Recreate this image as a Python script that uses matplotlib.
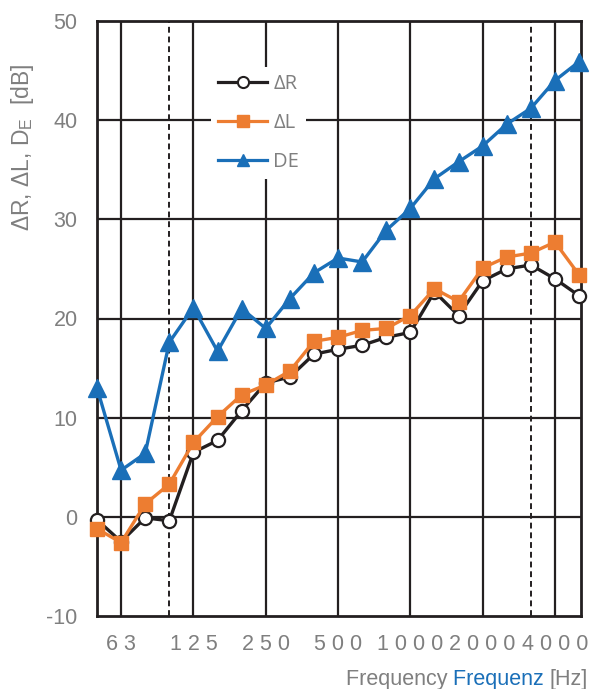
import matplotlib.pyplot as plt
from matplotlib.lines import Line2D

plt.rcParams['font.family'] = ['Liberation Sans', 'DejaVu Sans']
plt.rcParams['mathtext.fontset'] = 'custom'
plt.rcParams['mathtext.rm'] = 'Liberation Sans'
plt.rcParams['axes.unicode_minus'] = False

# third-octave bands 50 Hz .. 5000 Hz
bands = [50, 63, 80, 100, 125, 160, 200, 250, 315, 400, 500,
         630, 800, 1000, 1250, 1600, 2000, 2500, 3150, 4000, 5000]
delta_r = [-0.3, -2.5, -0.1, -0.4, 6.5, 7.7, 10.7, 13.5, 14.1, 16.4, 16.9,
           17.3, 18.1, 18.6, 22.7, 20.3, 23.8, 25.0, 25.4, 24.0, 22.3]
delta_l = [-1.2, -2.6, 1.3, 3.3, 7.5, 10.1, 12.3, 13.3, 14.7, 17.7, 18.1,
           18.8, 19.0, 20.3, 23.0, 21.7, 25.1, 26.2, 26.6, 27.7, 24.4]
d_e = [13.0, 4.7, 6.4, 17.6, 21.1, 16.7, 21.0, 19.0, 22.0, 24.6, 26.1,
       25.7, 28.9, 31.1, 34.1, 35.8, 37.4, 39.6, 41.2, 44.0, 45.9]

label_bands = [63, 125, 250, 500, 1000, 2000, 4000]
dashed_bands = [100, 3150]

black = '#231f20'
orange = '#ed7d31'
blue = '#1a6fb8'
gray = '#7f7f7f'

fig = plt.figure(figsize=(5.92, 6.89), dpi=100)
ax = fig.add_axes([97 / 592, 73 / 689, 484 / 592, 595 / 689])

x = list(range(len(bands)))
ax.set_xlim(0, 20.08)
ax.set_ylim(-10, 50)

# grid
for b in label_bands:
    ax.axvline(bands.index(b), color=black, lw=1.6, zorder=1)
for b in dashed_bands:
    ax.axvline(bands.index(b), color=black, lw=1.4, ls=(0, (3, 2)), zorder=1)
for v in range(0, 50, 10):
    ax.axhline(v, color=black, lw=1.6, zorder=1)
for s in ax.spines.values():
    s.set_color(black)
    s.set_linewidth(2)

ax.plot(x, delta_r, color=black, lw=2.4, marker='o', ms=9.5, mfc='white', mec=black,
        mew=1.6, zorder=3, clip_on=False)
ax.plot(x, delta_l, color=orange, lw=2.4, marker='s', ms=10, mfc=orange, mec=orange,
        zorder=4, clip_on=False)
ax.plot(x, d_e, color=blue, lw=2.4, marker='^', ms=13, mfc=blue, mec=blue,
        zorder=5, clip_on=False)

ax.set_xticks([bands.index(b) for b in label_bands])
ax.set_xticklabels([' '.join(str(b)) for b in label_bands])
ax.set_yticks(range(-10, 51, 10))
ax.tick_params(axis='both', length=0, labelsize=15.5, labelcolor=gray)
ax.tick_params(axis='x', pad=13)
ax.tick_params(axis='y', pad=14)

handles = [
    Line2D([], [], color=black, lw=2.3, marker='o', ms=8, mfc='white', mec=black, mew=1.5),
    Line2D([], [], color=orange, lw=2.3, marker='s', ms=8, mfc=orange, mec=orange),
    Line2D([], [], color=blue, lw=2.3, marker='^', ms=9, mfc=blue, mec=blue),
]
leg = ax.legend(handles, ['\u0394R', '\u0394L', 'DE'], loc='upper left',
                bbox_to_anchor=((211 - 97) / 484, (616 - 67) / 595),
                frameon=True, fancybox=False, edgecolor='none', framealpha=1,
                handlelength=2.45, handletextpad=0.3, labelspacing=0.95,
                borderpad=0.35, borderaxespad=0,
                prop={'family': ['Open Sans', 'DejaVu Sans'], 'size': 14.5})
for t in leg.get_texts():
    t.set_color(gray)
leg.set_zorder(6)

fig.text(23 / 592, 1 - 147 / 689, '\u0394R, \u0394L, D$_\\mathrm{E}$  [dB]',
         rotation=90, ha='center', va='center', color=gray, fontsize=16.5)

# x-axis caption, built right to left
fig.canvas.draw()
renderer = fig.canvas.get_renderer()
parts = [('[Hz]', gray), ('Frequenz ', blue), ('Frequency ', gray)]
right = 588
for txt, col in parts:
    t = fig.text(right / 592, 1 - 679 / 689, txt, ha='right', va='center',
                 color=col, fontsize=15.5)
    bb = t.get_window_extent(renderer)
    right -= bb.width

fig.savefig('out.png', dpi=100)
